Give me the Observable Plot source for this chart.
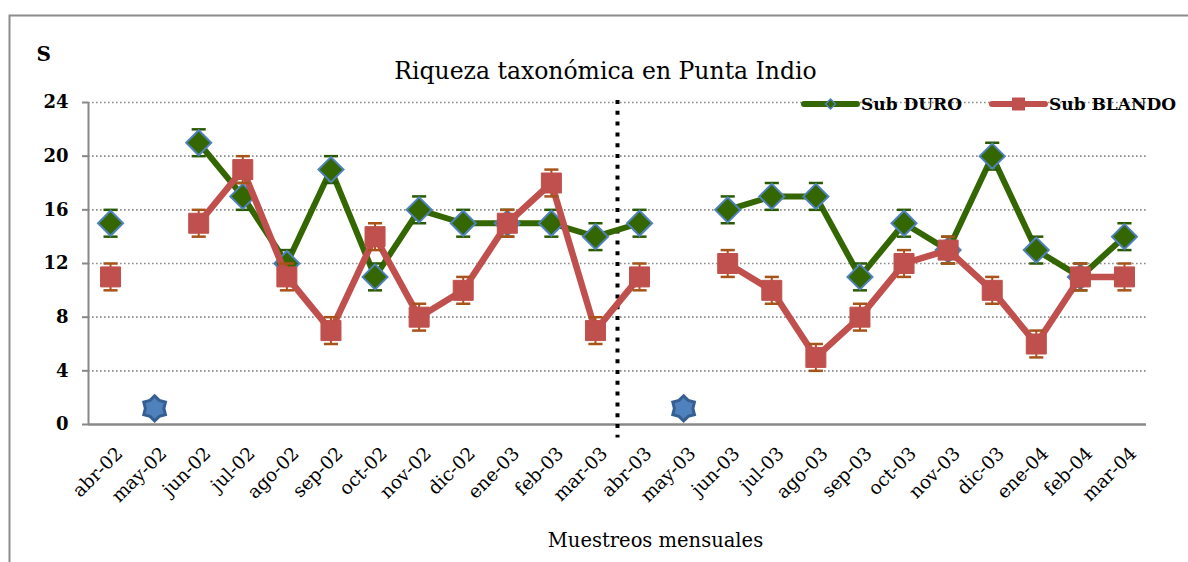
<!DOCTYPE html>
<html><head><meta charset="utf-8">
<script src="https://cdn.jsdelivr.net/npm/d3@7"></script>
<script src="https://cdn.jsdelivr.net/npm/@observablehq/plot@0.6"></script>
<style>
body{margin:0;background:#fff;}
#chart{width:1188px;height:562px;overflow:hidden;}
svg{font-family:"DejaVu Serif","Liberation Serif",serif;}
</style></head><body><div id="chart"></div>
<script>
const months = ["abr-02","may-02","jun-02","jul-02","ago-02","sep-02","oct-02","nov-02","dic-02","ene-03","feb-03","mar-03",
                "abr-03","may-03","jun-03","jul-03","ago-03","sep-03","oct-03","nov-03","dic-03","ene-04","feb-04","mar-04"];
const duro   = [15,null,21,17,12,19,11,16,15,15,15,14, 15,null,16,17,17,11,15,13,20,13,11,14];
const blando = [11,null,15,19,11, 7,14, 8,10,15,18, 7, 11,null,12,10, 5, 8,12,13,10, 6,11,11];
const errDuro   = [1,null,1,1,1,1,1,1,1,1,1,1, 1,null,1,1,1,1,1,1,1,1,1,1];
const errBlando = [1,null,1,1,1,1,1,1,1,1,1,1, 1,null,1,1,1,1,1,1,1,1,1,1];
const starMonths = ["may-02","may-03"];
const starValues = [1.2, 1.2];
const yTicks = [0,4,8,12,16,20,24];
const gridValues = [4,8,12,16,20,24];
const dividerAfter = "mar-03";
const seriesNames = ["Sub DURO","Sub BLANDO"];
const title = "Riqueza taxonómica en Punta Indio";
const yLabel = "S";
const xLabel = "Muestreos mensuales";

const GREEN = "#346601", GREEN_ERR = "#2a5a00", BLUE = "#4f81bd", RED = "#c0504d", RED_ERR = "#a8531a";

const idx = m => months.indexOf(m);
const rows = months.map((m, i) => ({i, m, duro: duro[i], blando: blando[i], ed: errDuro[i], eb: errBlando[i]}));
const dRows = rows.filter(r => r.duro != null);
const bRows = rows.filter(r => r.blando != null);
const starRows = starMonths.map((m, k) => ({i: idx(m), v: starValues[k]}));
const capHalf = 0.16;

const radial = (n, inner) => ({
  draw(ctx, size) {
    const R = Math.sqrt(size / Math.PI), r = R * inner;
    for (let k = 0; k < 2 * n; k++) {
      const a = -Math.PI / 2 + k * Math.PI / n, rr = k % 2 ? r : R;
      const x = rr * Math.cos(a), y = rr * Math.sin(a);
      k ? ctx.lineTo(x, y) : ctx.moveTo(x, y);
    }
    ctx.closePath();
  }
});
const diamond = {draw(ctx, size){const R=Math.sqrt(size/Math.PI);ctx.moveTo(0,-R);ctx.lineTo(R,0);ctx.lineTo(0,R);ctx.lineTo(-R,0);ctx.closePath();}};
const square = {draw(ctx, size){const R=Math.sqrt(size/Math.PI);ctx.rect(-R,-R,2*R,2*R);}};
const star6 = radial(6, 0.74);

const plot = Plot.plot({
  width: 1188, height: 562,
  marginLeft: 88, marginRight: 42, marginTop: 102, marginBottom: 138,
  style: {fontFamily: '"DejaVu Serif", serif', background: "transparent"},
  x: {type: "linear", domain: [-0.5, months.length - 0.5]},
  y: {domain: [0, 24]},
  marks: [
    Plot.ruleY(gridValues, {stroke: "#8c8c8c", strokeWidth: 1.6, strokeDasharray: "1.6,2.4"}),
    Plot.axisY({ticks: yTicks, tickSize: 6, tickPadding: 14, stroke: "#888", strokeWidth: 2, fontSize: 18, fontWeight: "bold", fill: "#000", label: null}),
    Plot.ruleX([-0.5], {y1: 0, y2: 24, stroke: "#888", strokeWidth: 2}),
    Plot.axisX({ticks: d3.range(months.length), tickFormat: i => months[i], tickSize: 0, tickPadding: 26, dx: 9, tickRotate: -45, fontSize: 18.5, fill: "#000", label: null}),
    Plot.ruleY([0], {stroke: "#888", strokeWidth: 2.5}),
    Plot.ruleX([idx(dividerAfter) + 0.5], {y1: 24.15, y2: -1, stroke: "#000", strokeWidth: 4, strokeDasharray: "4,6.8"}),
    // DURO
    Plot.line(rows, {x: "i", y: "duro", stroke: GREEN, strokeWidth: 6, curve: "linear"}),
    Plot.ruleX(dRows, {x: "i", y1: d => d.duro - d.ed, y2: d => d.duro + d.ed, stroke: GREEN_ERR, strokeWidth: 2}),
    Plot.link(dRows, {x1: d => d.i - capHalf, x2: d => d.i + capHalf, y1: d => d.duro + d.ed, y2: d => d.duro + d.ed, stroke: GREEN_ERR, strokeWidth: 2.5}),
    Plot.link(dRows, {x1: d => d.i - capHalf, x2: d => d.i + capHalf, y1: d => d.duro - d.ed, y2: d => d.duro - d.ed, stroke: GREEN_ERR, strokeWidth: 2.5}),
    Plot.dot(dRows, {x: "i", y: "duro", symbol: diamond, r: 12.5, fill: GREEN, stroke: BLUE, strokeWidth: 2}),
    // BLANDO
    Plot.line(rows, {x: "i", y: "blando", stroke: RED, strokeWidth: 6.5}),
    Plot.ruleX(bRows, {x: "i", y1: d => d.blando - d.eb, y2: d => d.blando + d.eb, stroke: RED_ERR, strokeWidth: 2}),
    Plot.link(bRows, {x1: d => d.i - capHalf, x2: d => d.i + capHalf, y1: d => d.blando + d.eb, y2: d => d.blando + d.eb, stroke: RED_ERR, strokeWidth: 2.5}),
    Plot.link(bRows, {x1: d => d.i - capHalf, x2: d => d.i + capHalf, y1: d => d.blando - d.eb, y2: d => d.blando - d.eb, stroke: RED_ERR, strokeWidth: 2.5}),
    Plot.dot(bRows, {x: "i", y: "blando", symbol: square, r: 10, fill: RED, stroke: RED, strokeWidth: 1}),
    // stars
    Plot.dot(starRows, {x: "i", y: "v", symbol: star6, r: 12.5, fill: BLUE, stroke: "#365f91", strokeWidth: 3}),
    // texts
    Plot.text([title], {frameAnchor: "top", dx: -12, dy: -40, fontSize: 23.5, fill: "#000", text: d => d}),
    Plot.text([xLabel], {frameAnchor: "bottom", dx: 38, dy: 122, fontSize: 19.5, fill: "#000", text: d => d}),
    Plot.text([yLabel], {frameAnchor: "top-left", dx: -52, dy: -56, fontSize: 20, fontWeight: "bold", fill: "#000", text: d => d})
  ]
});

const svg = d3.select(plot);
// outer chart border
svg.insert("rect", ":first-child").attr("x", 9.5).attr("y", 15.5).attr("width", 1300).attr("height", 700)
  .attr("fill", "#fff").attr("stroke", "#8c8c8c").attr("stroke-width", 2);

// legend
const leg = svg.append("g").attr("text-anchor", "start").style("font-size", "17px").style("font-weight", "bold");
const legendItems = [
  {name: seriesNames[0], x: 802, color: GREEN, sym: "diamond"},
  {name: seriesNames[1], x: 990, color: RED, sym: "square"}
];
legendItems.forEach(it => {
  const g = leg.append("g").attr("transform", `translate(${it.x},104)`);
  g.append("line").attr("x1", 2).attr("x2", 55).attr("stroke", it.color).attr("stroke-width", 6).attr("stroke-linecap", "round");
  if (it.sym === "diamond") {
    g.append("path").attr("d", "M28.5,-5L33.5,0L28.5,5L23.5,0Z").attr("fill", GREEN).attr("stroke", BLUE).attr("stroke-width", 1.5);
  } else {
    g.append("rect").attr("x", 22).attr("y", -6.5).attr("width", 13).attr("height", 13).attr("fill", RED);
  }
  g.append("text").attr("x", 59).attr("y", 6).attr("fill", "#000").attr("text-anchor", "start").text(it.name);
});

document.getElementById("chart").appendChild(plot);
</script>
</body></html>
